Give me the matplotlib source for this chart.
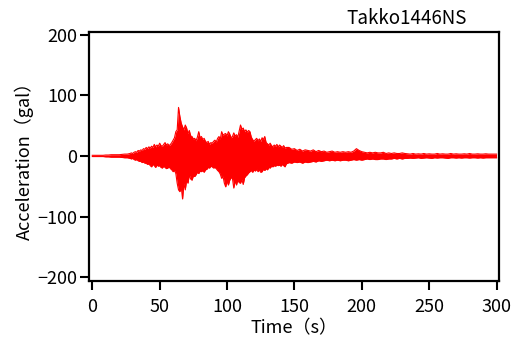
import numpy as np
import matplotlib
matplotlib.use('Agg')
import matplotlib.pyplot as plt

plt.rcParams['font.family'] = ['Noto Sans CJK JP', 'DejaVu Sans']

# time axis (s): 2 s steps in the quiet parts, 1 s steps through the strong motion
time_s = np.concatenate([np.arange(0, 28, 2), np.arange(28, 145, 1), np.arange(146, 301, 2)])

# upper / lower envelope of the trace (gal)
upper_gal = [
    1, 1, 1, 1, 1, 1.5, 1.5, 2, 2, 2, 2, 2.5, 3, 3,   # 0-26
    4, 5, 4, 6, 7, 6, 9, 8, 10, 9,                    # 28-37
    12, 11, 14, 12, 15, 13, 16, 14, 19, 15,           # 38-47
    18, 16, 21, 17, 16, 19, 22, 18, 20, 17,           # 48-57
    19, 22, 26, 30, 40, 43, 80, 65, 54, 48,           # 58-67
    43, 51, 46, 37, 42, 33, 32, 28, 29, 25,           # 68-77
    31, 40, 30, 32, 27, 29, 24, 22, 24, 19,           # 78-87
    22, 21, 24, 26, 23, 29, 32, 28, 40, 34,           # 88-97
    36, 37, 33, 40, 36, 30, 32, 38, 33, 35,           # 98-107
    31, 41, 51, 44, 46, 40, 43, 39, 42, 40,           # 108-117
    31, 27, 24, 27, 29, 25, 28, 24, 30, 27,           # 118-127
    32, 22, 20, 18, 21, 17, 15, 18, 16, 19,           # 128-137
    15, 18, 16, 14, 17, 13, 14,                       # 138-144
    14, 11, 12, 9, 11, 8, 10,                         # 146-158
    9, 8, 10, 7, 9, 7, 8, 6, 7, 8,                    # 160-178
    6, 7, 6, 7, 6, 7, 6, 8, 12, 9,                    # 180-198
    7, 6, 5, 6, 5, 6, 5, 5, 6, 4,                     # 200-218
    5, 4, 5, 4, 4, 5, 4, 3.5, 3, 4,                   # 220-238
    3, 3.5, 3, 4, 3, 3.5, 3, 3, 4, 3,                 # 240-258
    3.5, 3, 3, 4, 3, 3.5, 3, 3, 3.5, 3,               # 260-278
    4, 3, 3, 3.5, 3, 3, 3.5, 3, 3, 3, 3,              # 280-300
]

lower_gal = [
    -1, -1, -1, -1, -1, -1.5, -1.5, -2, -2, -2, -2, -2.5, -3, -3,
    -4, -5, -4, -6, -7, -6, -8, -9, -9, -11,
    -10, -12, -12, -14, -13, -16, -18, -14, -16, -19,
    -15, -17, -16, -19, -20, -17, -19, -21, -20, -18,
    -21, -23, -26, -24, -29, -45, -56, -59, -51, -71,
    -45, -56, -40, -45, -31, -38, -40, -33, -34, -31,
    -27, -29, -25, -26, -24, -27, -23, -22, -19, -20,
    -17, -18, -20, -19, -21, -24, -26, -30, -37, -33,
    -45, -51, -42, -48, -40, -36, -37, -53, -41, -48,
    -40, -44, -45, -39, -47, -36, -33, -31, -28, -26,
    -24, -27, -23, -25, -22, -26, -23, -27, -26, -22,
    -24, -21, -23, -19, -20, -17, -18, -16, -17, -15,
    -16, -15, -17, -14, -16, -18, -13,
    -11, -12, -10, -11, -10, -12, -10,
    -11, -10, -9, -10, -8, -9, -8, -7, -8, -7,
    -8, -7, -8, -7, -7, -8, -7, -6, -7, -6,
    -7, -6, -5, -6, -5, -6, -6, -5, -5, -6,
    -5, -5, -4, -5, -4, -5, -4, -4, -3.5, -4,
    -3.5, -3, -4, -3.5, -3, -3.5, -4, -3, -3.5, -3,
    -3, -3.5, -4, -3, -3, -3.5, -3, -3.5, -3, -3,
    -3.5, -3, -3, -3.5, -3, -3.5, -3, -3, -3, -3, -3,
]

fig = plt.figure(figsize=(5.11, 3.4), dpi=100)
ax = fig.add_axes([0.174, 0.174, 0.803, 0.733])

ax.fill_between(time_s, lower_gal, upper_gal, color='red', lw=0)
ax.plot(time_s, upper_gal, color='red', lw=0.8)
ax.plot(time_s, lower_gal, color='red', lw=0.8)

ax.set_xlim(-2.5, 302)
ax.set_ylim(-206, 205)
ax.set_xticks([0, 50, 100, 150, 200, 250, 300])
ax.set_yticks([-200, -100, 0, 100, 200])
ax.set_yticklabels(['\u2212200', '\u2212100', '0', '100', '200'])

for sp in ax.spines.values():
    sp.set_linewidth(1.6)
ax.tick_params(width=1.5, length=6.5, labelsize=13)
ax.tick_params(axis='x', pad=6)
ax.tick_params(axis='y', pad=2)

ax.set_xlabel('Time（s）', fontsize=13, labelpad=2)
ax.set_ylabel('Acceleration（gal）', fontsize=13, labelpad=2)

fig.text(0.914, 0.945, 'Takko1446NS', ha='right', va='center', fontsize=13.5)

fig.savefig('out.png', dpi=100)
